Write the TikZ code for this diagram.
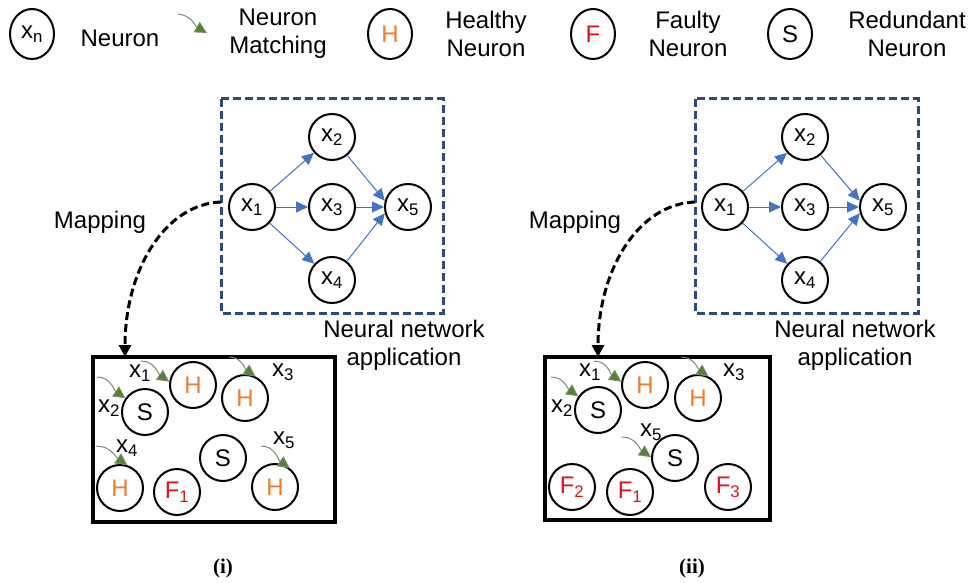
\documentclass[tikz,border=0pt]{standalone}
\usepackage{fontspec}
\setmainfont{Liberation Sans}
\newfontfamily\capfont{Liberation Serif}
\usetikzlibrary{arrows.meta,shapes.geometric}
\definecolor{netblue}{RGB}{68,114,196}
\definecolor{boxblue}{RGB}{44,74,124}
\definecolor{matchgreen}{RGB}{84,130,53}
\definecolor{matchline}{RGB}{120,140,110}
\definecolor{healthy}{RGB}{237,125,49}
\definecolor{faulty}{RGB}{220,20,30}
\tikzset{
  neuron/.style={circle, draw, line width=2pt, minimum size=46pt, inner sep=0pt, font=\fontsize{24}{24}\selectfont},
  legneuron/.style={ellipse, draw, line width=2pt, minimum width=44pt, minimum height=50pt, inner sep=0pt, font=\fontsize{24}{24}\selectfont},
  txt/.style={font=\fontsize{24}{28}\selectfont, align=center, inner sep=0pt},
  lbl/.style={font=\fontsize{24}{24}\selectfont, inner sep=0pt},
  netedge/.style={draw=netblue, line width=1pt, -{Triangle[length=12pt,width=11pt]}},
  netbox/.style={draw=boxblue, line width=3pt, dash pattern=on 8pt off 4pt},
  hwbox/.style={draw, line width=3.5pt},
  mapedge/.style={draw, line width=3pt, dash pattern=on 8pt off 4pt, -{Triangle[length=12pt,width=12pt]}},
  matchedge/.style={draw=matchline, line width=1pt, -{Triangle[length=12pt,width=12pt, fill=matchgreen]}, color=matchgreen, draw=matchline},
  hl/.style={text=healthy},
  fl/.style={text=faulty},
  captxt/.style={font=\capfont\bfseries\fontsize{21}{21}\selectfont}
}
\begin{document}
\begin{tikzpicture}[x=1pt,y=-1pt]
\useasboundingbox (0,0) rectangle (971,583);
% legend
\node[legneuron] (lxn) at (32,34) {x\textsubscript{n}};
\node[txt] (lneuron) at (120,38) {Neuron};
\coordinate (lma) at (178,14);
\coordinate (lmb) at (207,33);
\draw[matchedge] (lma) to[out=-5,in=150] (lmb);
\node[txt] (lmatch) at (278,34) {Neuron\\Matching};
\node[legneuron, hl] (lh) at (390,34) {H};
\node[txt] (lhealthy) at (486,34) {Healthy\\Neuron};
\node[legneuron, fl] (lf) at (593,34) {F};
\node[txt] (lfaulty) at (688,34) {Faulty\\Neuron};
\node[legneuron] (ls) at (790,34) {S};
\node[txt] (lred) at (907,34) {Redundant\\Neuron};

% ===== panel (i) =====
\draw[netbox] (221,99) rectangle (443,313);
\coordinate (ma) at (221,202);
\node[neuron] (a1) at (252,207) {x\textsubscript{1}};
\node[neuron] (a2) at (332,137) {x\textsubscript{2}};
\node[neuron] (a3) at (332,207) {x\textsubscript{3}};
\node[neuron] (a4) at (332,280) {x\textsubscript{4}};
\node[neuron] (a5) at (408,207) {x\textsubscript{5}};
\draw[netedge] (a1) -- (a2);
\draw[netedge] (a1) -- (a3);
\draw[netedge] (a1) -- (a4);
\draw[netedge] (a2) -- (a5.165);
\draw[netedge] (a3) -- (a5.180);
\draw[netedge] (a4) -- (a5.195);
\node[txt] (amap) at (100,222) {Mapping};
\node[txt] (aapp) at (404,345) {Neural network\\application};
\draw[hwbox] (93,357) rectangle (335,522);
\coordinate (mb) at (125,357);
\draw[mapedge] (ma) .. controls (165,204) and (125,270) .. (mb);
\node[neuron] (as2) at (145,412) {S};
\node[neuron, hl] (ah1) at (193,385) {H};
\node[neuron, hl] (ah3) at (245,398) {H};
\node[neuron] (as) at (223,458) {S};
\node[neuron, hl] (ah4) at (120,488) {H};
\node[neuron, fl] (af1) at (177,492) {F\textsubscript{1}};
\node[neuron, hl] (ah5) at (275,487) {H};
\node[lbl] (ax1) at (140,373) {x\textsubscript{1}};
\node[lbl] (ax2) at (109,408) {x\textsubscript{2}};
\node[lbl] (ax3) at (283,372) {x\textsubscript{3}};
\node[lbl] (ax4) at (127,448) {x\textsubscript{4}};
\node[lbl] (ax5) at (284,440) {x\textsubscript{5}};
\coordinate (ga2) at (97,377);
\coordinate (ga1) at (141,361);
\coordinate (ga3) at (229,357);
\coordinate (ga4) at (96,446);
\coordinate (ga5) at (261,446);
\draw[matchedge] (ga2) to[out=0,in=145] (as2.145);
\draw[matchedge] (ga1) to[out=0,in=145] (ah1.172);
\draw[matchedge] (ga3) to[out=0,in=145] (ah3.64);
\draw[matchedge] (ga4) to[out=0,in=145] (ah4.72);
\draw[matchedge] (ga5) to[out=0,in=145] (ah5.52);
\node[captxt] (capi) at (223,568) {(i)};

% ===== panel (ii) =====
\draw[netbox] (695,99) rectangle (918,313);
\coordinate (mc) at (695,202);
\node[neuron] (b1) at (725,207) {x\textsubscript{1}};
\node[neuron] (b2) at (805,137) {x\textsubscript{2}};
\node[neuron] (b3) at (805,207) {x\textsubscript{3}};
\node[neuron] (b4) at (805,280) {x\textsubscript{4}};
\node[neuron] (b5) at (883,207) {x\textsubscript{5}};
\draw[netedge] (b1) -- (b2);
\draw[netedge] (b1) -- (b3);
\draw[netedge] (b1) -- (b4);
\draw[netedge] (b2) -- (b5.165);
\draw[netedge] (b3) -- (b5.180);
\draw[netedge] (b4) -- (b5.195);
\node[txt] (bmap) at (575,222) {Mapping};
\node[txt] (bapp) at (855,345) {Neural network\\application};
\draw[hwbox] (545,357) rectangle (770,520);
\coordinate (md) at (598,357);
\draw[mapedge] (mc) .. controls (638,204) and (598,270) .. (md);
\node[neuron] (bs2) at (598,410) {S};
\node[neuron, hl] (bh1) at (645,385) {H};
\node[neuron, hl] (bh3) at (698,398) {H};
\node[neuron] (bs5) at (675,458) {S};
\node[neuron, fl] (bf2) at (572,487) {F\textsubscript{2}};
\node[neuron, fl] (bf1) at (630,492) {F\textsubscript{1}};
\node[neuron, fl] (bf3) at (728,487) {F\textsubscript{3}};
\node[lbl] (bx1) at (590,372) {x\textsubscript{1}};
\node[lbl] (bx2) at (562,408) {x\textsubscript{2}};
\node[lbl] (bx3) at (734,372) {x\textsubscript{3}};
\node[lbl] (bx5) at (651,432) {x\textsubscript{5}};
\coordinate (gb2) at (551,377);
\coordinate (gb1) at (594,361);
\coordinate (gb3) at (681,357);
\coordinate (gb5) at (622,437);
\draw[matchedge] (gb2) to[out=0,in=145] (bs2.145);
\draw[matchedge] (gb1) to[out=0,in=145] (bh1.172);
\draw[matchedge] (gb3) to[out=0,in=145] (bh3.64);
\draw[matchedge] (gb5) to[out=0,in=145] (bs5.178);
\node[captxt] (capii) at (692,568) {(ii)};
\end{tikzpicture}
\end{document}
